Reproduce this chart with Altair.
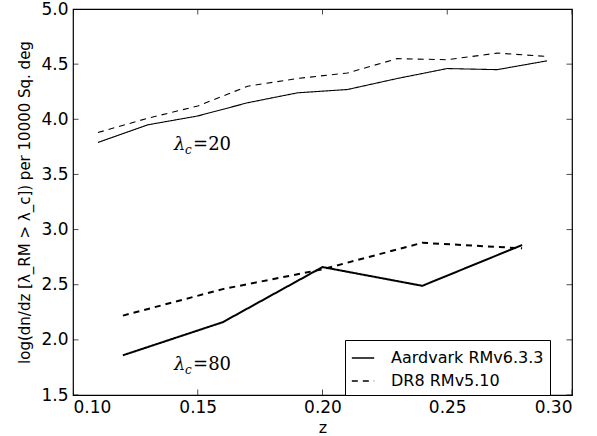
import altair as alt
import pandas as pd

# ---- data ----
z_20 = [0.11, 0.13, 0.15, 0.17, 0.19, 0.21, 0.23, 0.25, 0.27, 0.29]
aardvark_20 = [3.79, 3.95, 4.03, 4.15, 4.24, 4.27, 4.37, 4.46, 4.45, 4.53]
dr8_20 = [3.88, 4.01, 4.12, 4.30, 4.37, 4.42, 4.55, 4.54, 4.60, 4.57]

z_80 = [0.12, 0.16, 0.20, 0.24, 0.28]
aardvark_80 = [1.86, 2.16, 2.66, 2.49, 2.86]
dr8_80 = [2.22, 2.46, 2.64, 2.88, 2.83]

series_names = ["Aardvark RMv6.3.3", "DR8 RMv5.10"]
lambda_cuts = ["20", "80"]

x_ticks = [0.10, 0.15, 0.20, 0.25, 0.30]
y_ticks = [1.5, 2.0, 2.5, 3.0, 3.5, 4.0, 4.5, 5.0]

ann_z = [0.1405, 0.1405]
ann_y = [3.717, 1.725]
ann_val = ["20", "80"]

# ---- tables ----
rows = []
for z, a, d in zip(z_20, aardvark_20, dr8_20):
    rows.append({"z": z, "v": a, "series": series_names[0], "lam": "20"})
    rows.append({"z": z, "v": d, "series": series_names[1], "lam": "20"})
for z, a, d in zip(z_80, aardvark_80, dr8_80):
    rows.append({"z": z, "v": a, "series": series_names[0], "lam": "80"})
    rows.append({"z": z, "v": d, "series": series_names[1], "lam": "80"})
df = pd.DataFrame(rows)
ann = pd.DataFrame({"z": ann_z, "v": ann_y, "eq": ["=" + s for s in ann_val]})
xt = pd.DataFrame({"t": x_ticks})
yt = pd.DataFrame({"t": y_ticks})

xscale = alt.Scale(domain=[0.10, 0.30], nice=False, zero=False)
yscale = alt.Scale(domain=[1.5, 5.0], nice=False, zero=False)

lines = alt.Chart(df).mark_line(color="black").encode(
    x=alt.X("z:Q", scale=xscale,
            axis=alt.Axis(values=x_ticks, format=".2f", title="z", ticks=False,
                          labelPadding=4, titlePadding=4, grid=False)),
    y=alt.Y("v:Q", scale=yscale,
            axis=alt.Axis(values=y_ticks, format=".1f",
                          title="log(dn/dz [λ_RM > λ_c]) per 10000 Sq. deg",
                          ticks=False, labelPadding=5, titlePadding=8, grid=False)),
    strokeDash=alt.StrokeDash("series:N",
                              scale=alt.Scale(domain=series_names, range=[[1, 0], [6, 5]]),
                              legend=alt.Legend(title=None)),
    strokeWidth=alt.StrokeWidth("lam:N",
                                scale=alt.Scale(domain=lambda_cuts, range=[1.1, 2.0]),
                                legend=None),
    detail="lam:N",
)

tick_bottom = alt.Chart(xt).mark_tick(orient="vertical", color="black", size=11,
                                      thickness=1, clip=True).encode(
    x=alt.X("t:Q", scale=xscale), y=alt.datum(1.5))
tick_top = alt.Chart(xt).mark_tick(orient="vertical", color="black", size=11,
                                   thickness=1, clip=True).encode(
    x=alt.X("t:Q", scale=xscale), y=alt.datum(5.0))
tick_left = alt.Chart(yt).mark_tick(orient="horizontal", color="black", size=11,
                                    thickness=1, clip=True).encode(
    y=alt.Y("t:Q", scale=yscale), x=alt.datum(0.10))
tick_right = alt.Chart(yt).mark_tick(orient="horizontal", color="black", size=11,
                                     thickness=1, clip=True).encode(
    y=alt.Y("t:Q", scale=yscale), x=alt.datum(0.30))

lam_txt = alt.Chart(ann).mark_text(text="λ", font="DejaVu Serif", fontStyle="italic",
                                   fontSize=18, align="left", baseline="alphabetic",
                                   color="black").encode(x="z:Q", y="v:Q")
c_txt = alt.Chart(ann).mark_text(text="c", font="DejaVu Serif", fontStyle="italic",
                                 fontSize=12, align="left", baseline="alphabetic",
                                 dx=11, dy=4, color="black").encode(x="z:Q", y="v:Q")
eq_txt = alt.Chart(ann).mark_text(font="DejaVu Serif", fontSize=18, align="left",
                                  baseline="alphabetic", dx=19,
                                  color="black").encode(x="z:Q", y="v:Q", text="eq:N")

chart = alt.layer(lines, tick_bottom, tick_top, tick_left, tick_right,
                  lam_txt, c_txt, eq_txt).properties(
    width=499, height=386,
    padding={"left": 73, "top": 9, "right": 25, "bottom": 41},
    autosize=alt.AutoSizeParams(type="none"),
    background="white",
).configure_view(stroke="black", strokeWidth=1.2).configure_axis(
    labelFont="DejaVu Sans", labelFontSize=17, labelColor="black",
    titleFont="DejaVu Sans", titleFontSize=15, titleFontWeight="normal",
    titleColor="black", domain=False,
).configure_axisX(titleFontSize=16).configure_legend(
    orient="none", legendX=272, legendY=331,
    fillColor="white", strokeColor="black", padding=6, cornerRadius=0,
    symbolType="stroke", symbolStrokeColor="black", symbolStrokeWidth=1.5,
    symbolSize=500, labelFont="DejaVu Sans", labelFontSize=16, labelColor="black",
    labelOffset=16, rowPadding=3,
)

chart.save("out.html", embed_options={"renderer": "svg", "actions": False})
